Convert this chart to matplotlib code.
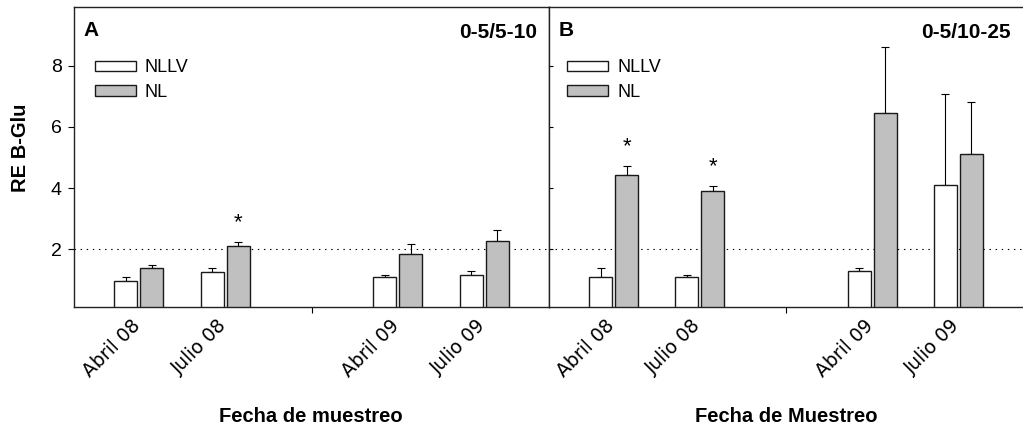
import numpy as np
import matplotlib
matplotlib.use("Agg")
import matplotlib.pyplot as plt
from matplotlib.ticker import FixedLocator
from matplotlib.transforms import ScaledTranslation

# Sampling dates and depth ratios
fechas = ["Abril 08", "Julio 08", "Abril 09", "Julio 09"]
posiciones = [1, 2, 4, 5]
series = ["NLLV", "NL"]

# Panel A: 0-5/5-10
a_nllv = [0.97, 1.25, 1.08, 1.15]
a_nllv_err = [0.13, 0.13, 0.07, 0.15]
a_nl = [1.40, 2.12, 1.84, 2.27]
a_nl_err = [0.09, 0.11, 0.32, 0.36]
a_signif = [False, True, False, False]

# Panel B: 0-5/10-25
b_nllv = [1.10, 1.10, 1.30, 4.11]
b_nllv_err = [0.29, 0.05, 0.09, 2.96]
b_nl = [4.44, 3.92, 6.45, 5.11]
b_nl_err = [0.29, 0.14, 2.15, 1.69]
b_signif = [True, True, False, False]

umbral = 2.0

W, H = 1023, 437
fig = plt.figure(figsize=(W / 100, H / 100), dpi=100)
bottom_px, top_px = 307.3, 7.0
ax_h = (bottom_px - top_px) / H
ax_b = (H - bottom_px) / H
axA = fig.add_axes([74 / W, ax_b, 475 / W, ax_h])
axB = fig.add_axes([549 / W, ax_b, 474 / W, ax_h], sharey=axA)

arial = "Liberation Sans"
tickfont = "DejaVu Sans"
bw, off = 0.266, 0.15
edge = "#1a1a1a"
gris = "#c0c0c0"
shift = ScaledTranslation(5 / 100, 0, fig.dpi_scale_trans)


def draw_panel(ax, nllv, nllv_err, nl, nl_err, signif, letra, rotulo):
    x = np.array(posiciones, dtype=float)
    ax.bar(x - off, nllv, bw, color="white", edgecolor=edge, linewidth=1.0,
           label=series[0], zorder=2)
    ax.bar(x + off, nl, bw, color=gris, edgecolor=edge, linewidth=1.0,
           label=series[1], zorder=2)
    zeros = np.zeros(len(x))
    ax.errorbar(x - off, nllv, yerr=[zeros, nllv_err], fmt="none",
                ecolor="black", elinewidth=0.8, capsize=3.1, capthick=0.8,
                zorder=1)
    ax.errorbar(x + off, nl, yerr=[zeros, nl_err], fmt="none",
                ecolor="black", elinewidth=0.8, capsize=3.1, capthick=0.8,
                zorder=1)
    for xi, v, e, s in zip(x, nl, nl_err, signif):
        if s:
            ax.annotate("*", (xi + off, v + e), xytext=(0, 10),
                        textcoords="offset points", ha="center",
                        va="baseline", fontsize=16, fontfamily=arial)
    ax.axhline(umbral, color="black", linewidth=0.8,
               linestyle=(0, (1.3, 4.2)), zorder=0)
    ax.set_xlim(0.25, 5.75)
    ax.set_ylim(0.105, 9.92)
    ax.xaxis.set_major_locator(FixedLocator(posiciones))
    ax.xaxis.set_minor_locator(FixedLocator([3]))
    ax.tick_params(axis="x", which="major", length=0, pad=6)
    ax.tick_params(axis="x", which="minor", length=4, width=0.8,
                   direction="out")
    ax.set_xticklabels(fechas, rotation=45, ha="right", va="top",
                       fontsize=13.5, fontfamily=tickfont)
    for t in ax.xaxis.get_majorticklabels():
        t.set_transform(t.get_transform() + shift)
    ax.set_yticks([2, 4, 6, 8])
    for sp in ax.spines.values():
        sp.set_linewidth(1.0)
        sp.set_color("#222222")
    ax.text(0.021, 0.955, letra, transform=ax.transAxes, fontsize=15,
            fontweight="bold", fontfamily=arial, ha="left", va="top")
    ax.text(0.975, 0.948, rotulo, transform=ax.transAxes, fontsize=15,
            fontweight="bold", fontfamily=arial, ha="right", va="top")
    ax.legend(loc="upper left", frameon=False,
              prop={"family": arial, "size": 13},
              handlelength=2.25, handleheight=0.5, handletextpad=0.52,
              labelspacing=0.42, borderpad=0, borderaxespad=0)


draw_panel(axA, a_nllv, a_nllv_err, a_nl, a_nl_err, a_signif, "A", "0-5/5-10")
draw_panel(axB, b_nllv, b_nllv_err, b_nl, b_nl_err, b_signif, "B", "0-5/10-25")

axA.get_legend().set_bbox_to_anchor((0.044, 0.826), transform=axA.transAxes)
axB.get_legend().set_bbox_to_anchor((0.039, 0.826), transform=axB.transAxes)

axA.tick_params(axis="y", direction="out", length=4, width=0.8, pad=5,
                labelsize=14)
for t in axA.get_yticklabels():
    t.set_fontfamily(arial)
axB.tick_params(axis="y", direction="in", length=3, width=0.8,
                labelleft=False)
axB.spines["right"].set_visible(False)

fig.text(20.8 / W, 1 - 147.5 / H, "RE B-Glu", rotation=90, ha="center",
         va="center", fontsize=14.5, fontweight="bold", fontfamily=arial)
fig.text(311 / W, 1 - 416 / H, "Fecha de muestreo", ha="center",
         va="center", fontsize=14.5, fontweight="bold", fontfamily=arial)
fig.text(786 / W, 1 - 416 / H, "Fecha de Muestreo", ha="center",
         va="center", fontsize=14.5, fontweight="bold", fontfamily=arial)

fig.savefig("out.png", dpi=100)
